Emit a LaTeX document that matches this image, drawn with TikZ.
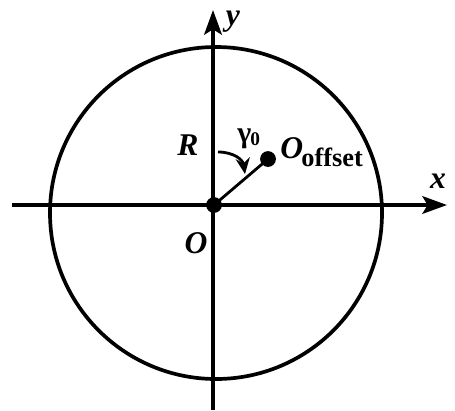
\documentclass[tikz,border=0pt]{standalone}
\usepackage{fontspec}
\setmainfont{Liberation Serif}
\usetikzlibrary{arrows.meta}
\tikzset{
  axis/.style={line width=2.2pt,-{Stealth[length=14pt,width=10pt,inset=3pt]}},
  lab/.style={font=\fontsize{18}{20}\selectfont\bfseries\itshape, inner sep=0pt},
  dot/.style={circle,fill=black,inner sep=0pt,minimum size=9pt}
}
\begin{document}
\begin{tikzpicture}[x=0.02cm,y=-0.02cm]
\useasboundingbox (0,0) rectangle (455,410);
% circle
\draw[line width=2.1pt] (216,213) circle[radius=166];
% axes
\coordinate (xl) at (12,205);
\coordinate (xr) at (447,205);
\coordinate (yb) at (213,410);
\coordinate (yt) at (213,10);
\draw[axis] (xl) -- (xr);
\draw[axis] (yb) -- (yt);
% points
\node[dot] (o) at (214,205) {};
\node[dot] (p) at (268,159) {};
\draw[line width=1.6pt] (o.center) -- (p.center);
% angle arrow
\coordinate (as) at (218,152);
\coordinate (ae) at (245,174);
\draw[line width=1.6pt,-{Stealth[length=9pt,width=8pt]}] (as) .. controls (234,152) and (243,160) .. (ae);
% labels
\node[lab] (ylab) at (233,22) {y};
\node[lab] (xlab) at (438,181) {x};
\node[lab] (Olab) at (196,243) {O};
\node[lab] (Rlab) at (188,145) {R};
\node[inner sep=0pt,anchor=base west,font=\fontsize{17}{18}\selectfont\bfseries] (glab) at (237,142) {γ\kern-0.5pt\raisebox{-2pt}{\fontsize{11}{12}\selectfont 0}};
\node[lab,anchor=base west] (Ooff) at (280,158) {O\kern-1pt\raisebox{-5pt}{\upshape\fontsize{15}{17}\selectfont offset}};
\end{tikzpicture}
\end{document}
